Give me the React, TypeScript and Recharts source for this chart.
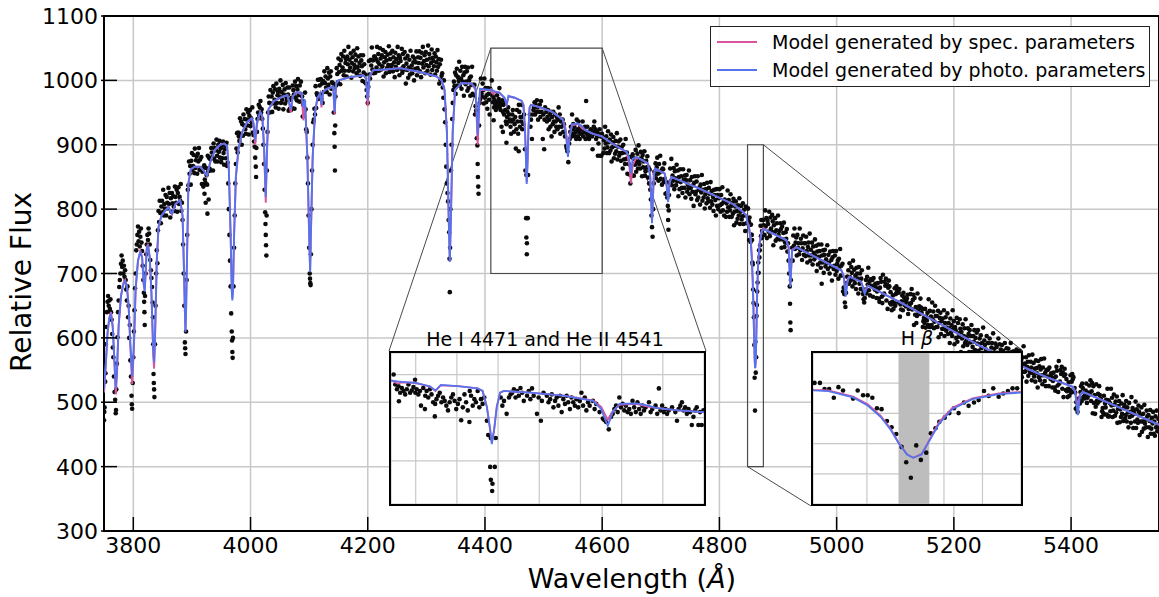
import React from "react";
import {
  ComposedChart,
  Scatter,
  Line,
  XAxis,
  YAxis,
  CartesianGrid,
  ReferenceArea,
  ReferenceLine,
} from "recharts";

// Spectrum of an O/B star with two fitted model spectra, plus two zoomed insets
// (He I 4471 / He II 4541 and H beta).

const FONT = "'DejaVu Sans', 'Liberation Sans', sans-serif";
const SPEC_COLOR = "#d9549c";
const PHOTO_COLOR = "#5673ee";
const GRID = "#c8c8c8";

// main axes
const X_DOMAIN: [number, number] = [3750, 5550];
const Y_DOMAIN: [number, number] = [300, 1100];
const xTicks = [3800, 4000, 4200, 4400, 4600, 4800, 5000, 5200, 5400];
const yTicks = [300, 400, 500, 600, 700, 800, 900, 1000, 1100];

// model wavelengths (Å) and the two model fluxes
const modelWave = [
  3750, 3753, 3756, 3759, 3762, 3765, 3768, 3770, 3772, 3775, 3779, 3783, 3786, 3789, 3792, 3795, 3798,
  3801, 3804, 3808, 3812, 3815, 3818, 3819.5, 3821, 3823, 3825, 3828, 3831, 3834, 3835.5, 3837, 3840,
  3843, 3848, 3855, 3860, 3866, 3872, 3880, 3884, 3886, 3888, 3889, 3890, 3892, 3894, 3898, 3905, 3914,
  3920, 3925.6, 3931, 3940, 3948, 3955, 3960, 3963, 3966, 3968, 3969, 3970, 3972, 3975, 3979.5, 3986,
  3994, 4002, 4005, 4008, 4011, 4016.5, 4020, 4023, 4026, 4028, 4030.6, 4040, 4056, 4063, 4068.8, 4072,
  4079, 4087.5, 4090, 4093, 4097, 4100, 4101.7, 4103, 4106, 4110, 4114, 4118.7, 4121, 4124, 4130, 4141,
  4143.5, 4146, 4150, 4170, 4192.5, 4197, 4200, 4203, 4209.6, 4230, 4255, 4289, 4317.7, 4326, 4331, 4335,
  4338, 4340, 4342, 4345, 4349, 4360, 4377, 4384, 4387.6, 4391.5, 4408.6, 4410.6, 4414, 4416.6, 4424.6,
  4433.6, 4437, 4440.2, 4450.6, 4462.6, 4465.6, 4468.2, 4470.2, 4471.2, 4472.6, 4474.2, 4476.2, 4478.6,
  4494.6, 4514.6, 4532.6, 4537.6, 4541.6, 4544.6, 4548.6, 4558.6, 4566.5, 4570.5, 4584.5, 4599.5, 4620,
  4641.6, 4646, 4649, 4652, 4658.6, 4678, 4682, 4685, 4688, 4690, 4706.9, 4710, 4712.5, 4715, 4718, 4766,
  4823, 4840, 4846, 4848.1, 4850, 4853.2, 4855.1, 4856.8, 4858.1, 4859.1, 4860.2, 4861, 4862.1, 4863.2,
  4864.4, 4866.1, 4868.7, 4872.1, 4875, 4880, 4914, 4918, 4921, 4924, 4931, 5008, 5012, 5015.4, 5019,
  5022, 5042, 5047.8, 5053, 5107, 5176, 5244, 5318, 5358, 5403, 5407, 5411.4, 5415, 5420, 5474, 5550,
];
const photoFlux = [
  520, 560, 608, 630, 636, 615, 560, 522, 548, 620, 665, 683, 688, 680, 650, 592, 540,
  590, 678, 720, 733, 725, 682, 672, 700, 738, 744, 725, 670, 582, 562, 602, 720,
  772, 790, 798, 803, 793, 808, 814, 790, 722, 640, 609, 640, 742, 840, 862, 866, 866,
  860, 852, 872, 893, 900, 902, 898, 862, 760, 672, 658, 672, 760, 850, 894, 920,
  935, 941, 935, 907, 935, 951, 945, 900, 819, 890, 955, 968, 975, 977, 955, 975,
  982, 980, 958, 970, 880, 760, 702, 760, 880, 950, 972, 980, 962, 982, 987, 990,
  951, 995, 1000, 1005, 1008, 1004, 970, 1008, 1016, 1017, 1019, 1013, 1006, 1000, 985, 920,
  790, 718, 790, 920, 985, 996, 995, 988, 915, 987, 985, 986, 984, 983, 981,
  973, 963, 976, 973, 968, 962, 924, 871, 839, 871, 924, 958, 962,
  958, 951, 939, 920, 881, 913, 932, 933, 928, 923, 917, 913, 900,
  889, 880, 855, 878, 881, 871, 850, 778, 850, 863, 855, 835, 811, 840, 850, 832,
  808, 796, 790, 776, 774, 753, 726, 688, 645, 602, 564, 553, 564, 613,
  667, 715, 747, 764, 769, 767, 752, 740, 679, 735, 741, 705, 695, 664, 690,
  695, 687, 669, 681, 656, 622, 588, 555, 539, 524, 515, 480, 510, 516, 495, 465,
];
const specFlux = [
  515, 556, 606, 632, 640, 618, 556, 512, 540, 618, 666, 685, 690, 681, 648, 585, 528,
  582, 675, 720, 735, 726, 680, 675, 702, 740, 746, 726, 666, 572, 552, 594, 716,
  772, 790, 798, 803, 792, 808, 814, 790, 722, 642, 612, 642, 742, 840, 862, 866, 866,
  860, 852, 872, 893, 900, 902, 898, 862, 762, 675, 662, 675, 762, 850, 894, 920,
  935, 941, 932, 900, 932, 951, 944, 896, 810, 885, 955, 968, 975, 977, 950, 975,
  982, 978, 938, 965, 880, 762, 705, 762, 880, 950, 972, 980, 958, 982, 987, 990,
  948, 995, 1000, 1005, 1008, 1002, 960, 1006, 1016, 1017, 1019, 1013, 1006, 1000, 985, 922,
  792, 720, 792, 922, 985, 996, 995, 985, 900, 985, 985, 986, 979, 982, 981,
  972, 962, 975, 973, 968, 962, 926, 873, 842, 873, 926, 958, 962,
  958, 951, 940, 925, 895, 915, 930, 932, 925, 923, 917, 913, 900,
  889, 870, 840, 868, 881, 871, 852, 782, 852, 863, 855, 837, 815, 842, 850, 832,
  808, 796, 790, 778, 776, 756, 730, 692, 648, 604, 565, 553, 566, 617,
  672, 719, 750, 766, 771, 767, 752, 742, 683, 737, 741, 705, 697, 670, 692,
  695, 687, 672, 681, 656, 622, 588, 555, 539, 524, 517, 493, 512, 516, 495, 465,
];

// observed points around the absorption lines [wavelength, flux]
const observed: [number, number][] = [
  [3750,472],[3750.5,485],[3751,492],[3752,532],[3752.5,545],[3753,590],[3754,617],[3755,640],[3756,656],[3757,665],
  [3758,650],[3759,658],[3760,645],[3761,660],[3762,640],[3763,628],[3764,606],[3765,585],[3766,570],[3767,540],
  [3768,516],[3769,504],[3770,483],[3770.5,488],[3771,520],[3772,560],[3773,601],[3774,640],[3775,658],[3776,679],
  [3777,690],[3778,700],[3779,715],[3780,728],[3781,710],[3782,720],[3783,700],[3784,712],[3785,695],[3786,705],
  [3787,690],[3788,675],[3789,658],[3790,680],[3791,632],[3792,650],[3793,600],[3794,620],[3795,565],[3796,540],
  [3797,510],[3797.5,497],[3798,490],[3799,530],[3800,570],[3801,610],[3802,643],[3803,677],[3804,700],[3805,736],
  [3806,745],[3807,760],[3808,773],[3809,750],[3810,765],[3811,742],[3812,757],[3813,770],[3814,748],[3815,735],
  [3816,712],[3817,690],[3818,670],[3818.5,656],[3819,640],[3819.5,620],[3820,665],[3821,700],[3822,730],[3823,745],
  [3824,760],[3825,752],[3826,770],[3827,762],[3828,745],[3829,721],[3830,705],[3831,693],[3832,679],[3833,655],
  [3833.5,632],[3834,590],[3834.5,544],[3835,530],[3835.5,520],[3836,508],[3837,590],[3838,650],[3839,700],[3840,736],
  [3841,716],[3842,767],
  [3885,745],[3886,700],[3887,650],[3888,593],[3888.5,584],[3889,575],[3890,610],[3891,690],[3892,760],[3893,830],
  [3919.5,835],[3921.5,824],[3923.5,810],[3926.5,793],[3928.5,815],
  [3962,840],[3963,800],[3964,760],[3965,720],[3966,680],[3967,638],[3968,610],[3968.5,596],[3969,578],[3969.5,569],
  [3970,600],[3971,680],[3972,740],[3973,790],[3974,840],[3975,870],
  [4005,915],[4006,905],[4007,897],[4008,880],[4009,866],[4009.5,850],[4010,895],[4011,920],[4012,940],[4013,950],
  [4014,962],[4015,945],[4016,958],[4017,968],[4018,950],[4019,955],[4020,940],[4021,925],[4022,900],[4023,870],
  [4024,830],[4025,795],[4025.5,777],[4026,760],[4026.5,744],[4027,728],[4027.5,790],[4028,860],[4029,920],[4030,950],
  [4096,920],[4097,880],[4098,840],[4099,790],[4100,740],[4101,700],[4101.5,692],[4102,685],[4102.5,682],[4103,730],
  [4104,800],[4105,860],[4106,900],[4107,935],
  [4142,950],[4143,918],[4143.5,897],[4144,860],[4144.5,930],[4145,975],
  [4197,995],[4198,985],[4199,975],[4200,965],[4201,990],
  [4331,955],[4332,935],[4333,900],[4334,866],[4335,840],[4336,825],[4337,812],[4338,783],[4339,764],[4339.5,723],
  [4340,671],[4340.5,740],[4341,800],[4342,860],[4343,900],[4344,940],[4345,965],[4346,985],
  [4386,910],[4387,899],[4387.5,870],[4388,850],[4388.5,835],[4389,824],[4390,930],[4391,965],
  [4682,830],[4683,815],[4684,790],[4685,772],[4686,757],[4687,800],[4688,840],[4689,858],
  [4710,825],[4711,818],[4712,805],[4712.5,783],[4713,768],[4713.5,798],[4714,822],[4715,840],
  [4918,720],[4919,700],[4920,680],[4920.5,653],[4921,624],[4921.5,612],[4922,690],[4923,720],[4924,740],
  [4974.5,684],
  [5012,678],[5013,668],[5014,655],[5015,648],[5016,670],[5017,685],[5018,695],
  [5045,668],[5046,660],[5047,655],[5048,662],[5049,675],[5050,690],
  [5409,500],[5410,492],[5411,485],[5412,498],[5413,505],
];

// observed continuum, one point per Å starting at `start`
const continuum: { start: number; flux: number[] }[] = [
  { start: 3843, flux: [
    797,780,813,794,778,804,813,795,830,790,808,801,822,790,819,810,801,833,808,825,
    787,817,796,825,809,820,804,797,835,819,810,830,796,825,834,808,819,813,839,797,810,783] },
  { start: 3894, flux: [
    837,874,855,867,838,875,887,861,867,884,856,894,864,876,882,855,886,874,895,861,
    877,863,881,839,858,863,838,868,846,841,864,853,838,883,859,880,863,878,860,895,
    888,881,860,902,878,895,874,891,908,883,874,900,889,906,880,894,873,898,879,905,
    887,869,893,899,879,903,867,872] },
  { start: 3976, flux: [
    894,918,888,919,913,906,941,917,936,900,932,914,947,930,940,924,917,955,939,930,
    950,916,945,954,929,941,935,958,919] },
  { start: 4031, flux: [
    975,965,950,985,964,975,951,981,991,964,970,986,958,995,965,977,982,956,987,975,
    1000,965,982,970,993,955,978,986,964,996,974,969,989,978,953,989,956,970,954,973,
    957,992,985,978,956,998,973,991,969,986,1002,977,967,992,979,998,967,975,944,962,
    967,953,981,955,924] },
  { start: 4108, flux: [
    939,956,947,991,957,980,977,1001,971,1001,992,978,1002,971,995,965,999,982,1014,996,
    1006,989,982,1019,1003,993,1012,978,1006,1014,987,997,987,995] },
  { start: 4146, flux: [
    992,1019,1010,997,1034,1013,1024,994,1031,1041,1015,1020,1037,1008,1046,1015,1027,1033,1006,1037,
    1025,1052,1015,1032,1020,1042,1004,1027,1036,1014,1046,1024,1019,1040,1031,1011,1050,1021,1037,1015,
    1027,1007,1039,1031,1022,999,1039,1012,1025,997,1009] },
  { start: 4202, flux: [
    1030,1009,1003,1032,1023,1051,1017,1031,1011,1037,1037,1012,1033,1020,1052,1029,1041,1015,1025,1050,
    1034,1017,1039,1022,1047,1006,1028,1036,1044,1011,1031,1019,1040,1024,1053,1013,1033,1042,1019,1024,
    1046,1014,1036,1028,1005,1043,1021,1033,1016,1052,1027,1039,1008,1035,1030,1018,1049,1012,1041,1022,
    1017,1044,1034,995,1026,1016,1038,1004,1020,1032,1009,1046,1017,1023,1011,1037,1028,1000,1034,1018,
    1028,1045,1008,1019,1036,1027,1045,1014,1035,1005,1043,1026,1052,1020,1030,1039,1011,1044,1024,1032,
    1015,1054,1022,1041,1034,1009,1027,1048,1016,1035,1030,1022,1042,1009,1037,1028,1015,1047,1021,1033,
    995,1025,1001,1032,1007,1011,989,973,1000] },
  { start: 4347, flux: [
    998,991,1012,979,1008,1018,992,1005,999,1029,992,1015,1003,987,1021,998,1008,976,1012,1021,
    994,998,1014,984,1020,988,1000,1004,976,1006,993,1021,979,993,977,993,947,960,953] },
  { start: 4392, flux: [
    971,1003,980,975,995,985,964,1003,973,988,966,977,956,988,979,970,947,987] },
  { start: 4601, flux: [
    912,887,907,894,928,902,913,887,896,921,904,887,908,891,916,874,896,904,912,879,
    898,886,906,890,918,877,897,905,883,887,908,875,896,887,863,900,877,888,870,909,
    878,888,855,879,870,854,881,840,867,852,852,885,879,852,878,869,892,858,874,886,
    863,899,870,876,863,889,879,851,884,865,874,890,852,859,875,865,882,849,865,840,861] },
  { start: 4690, flux: [
    854,871,848,865,880,855,844,870,857,883,847,860,838,863,862,842,871,847,824,842] },
  { start: 4716, flux: [
    863,844,878,837,852,844,864,831,859,848,837,869,843,860,820,850,831,862,842,851,
    833,825,862,845,833,852,818,845,853,827,838,832,860,823,845,833,816,850,827,837,
    805,841,851,823,827,843,814,851,818,830,834,807,838,826,853,813,830,818,839,801,
    823,831,809,841,817,812,833,824,802,842,812,828,807,819,797,830,822,814,790,831,
    805,822,800,817,831,806,796,822,808,834,798,811,790,815,813,788,809,796,829,803,
    814,788,798,823,805,788,810,793,816,775,796,804,812,779,797,785,806,790,817,777,
    796,805,784,789,809,777,799,790,766,804,778] },
  { start: 4876, flux: [
    775,760,798,773,786,755,782,777,765,796,758,787,770,765,791,781,744,775,764,786,
    751,767,778,754,790,760,766,753,778,769,740,773,753,763,779,741,748,764,754,769,734,747] },
  { start: 4925, flux: [
    720,759,743,770,738,748,756,728,760,740,747,730,770,736,754,747,721,739,759,729,
    747,747,727,757,735,717,741,748,728,762,720,737,728,748,714,742,732,722,753,727,
    743,704,734,714,745,726,735,717,709,745,728,717,736,701,729,737,711,722,716,744,
    707,729,717,700,734,711,721,689,725,735,707,712,728,698,735,704,715,720,692,723,
    710,738,697,712,697,715,672] },
  { start: 5019, flux: [
    695,705,684,716,694,689,710,701,680,720,691,706,685,697,676,709,700,692,669,710,
    684,700,676,692,705,675] },
  { start: 5051, flux: [
    669,695,683,709,674,687,666,691,691,681,690,664,693,679,675,684,678,662,672,685,
    675,661,656,678,693,687,664,654,698,667,669,687,681,692,658,683,645,678,689,680,
    654,671,652,643,656,666,645,654,677,650,668,680,672,675,655,670,676,633,652,644,
    657,666,643,670,663,651,658,649,656,661,667,637,645,649,653,668,654,676,644,659,
    667,620,662,636,648,623,634,669,643,639,649,637,661,647,639,645,617,626,631,623,
    645,616,633,627,639,620,660,617,642,617,633,620,655,629,641,615,625,650,634,617,
    634,617,642,601,623,631,639,606,626,614,630,614,643,603,623,632,611,616,638,606,
    623,615,592,630,608,620,603,643,614,626,590,617,612,600,631,594,623,607,602,629,
    614,578,609,599,621,587,603,615,592,629,595,601,589,615,606,578,612,593,603,620,
    578,586,603,594,612,581,600,570,608,591,612,580,590,599,571,604,584,592,575,616,
    577,596,589,564,582,603,573,592,592,573,599,578,560,585,592,573,607,566,583,575,
    591,558,586,577,567,599,573,590,552,582,558,589,571,580,563,555,592,575,565,584,
    546,574,583,557,569,563,592,555,578,566,545,579,557,567,536,572,582,555,560,576,
    543,580,549,561,566,539,570,558,587,547,560,548,570,532,555,563,541,573,551,546,
    563,554,534,574,545,561,540,552,532,565,553,545,523,564,539,556,534,551,567,542,
    528,554,542,568,533,546,525,550,550,540,551,525,554,540,536,545,539,523,533,546,
    537,523,518,540,555,549,526,516,564,529,532,550,544,555,521,546,508,541,552,543,
    519,536,517,508,521,531,510,519,542,515,532,544,536,539,517,522,515,490] },
  { start: 5414, flux: [
    506,498,516,525,502,529,522,508,515,506,513,518,529,499,507,511,515,
    526,512,534,502,517,530,483,525,499,511,482,493,528,502,498,513,501,525,511,503,
    505,477,486,491,483,510,481,498,492,504,481,521,478,503,478,499,486,521,495,507,
    477,487,512,496,479,501,484,509,468,490,494,502,469,489,477,498,482,511,471,491,
    496,475,480,502,470,492,484,461,499,477,485,468,508,479,491,460,487,482,470,501,
    460,489,473,468,495,485,449,480,470,492,454,470,482,459,496,467,473,461,487,478,
    446,480,461,471,488,451,459,476,467,485,451,470,448,478,461,487,455,465,474] },
];

// observed points read from the He I 4471 / He II 4541 inset
const heObserved: [number, number][] = [
  [4411.6,1000],[4412.6,977],[4413.6,966],[4414.6,973],[4414.8,938],[4415.6,958],[4416.6,969],[4417.6,962],[4418.6,954],[4419.6,966],
  [4420.6,977],[4421.6,958],[4422.6,963],[4423.6,971],[4424.6,988],[4424.8,958],[4425.6,966],[4426.6,954],[4427.6,962],[4428.2,928],
  [4429.6,969],[4430.6,920],[4430.8,951],[4431.6,962],[4432.6,947],[4433.6,966],[4434.6,954],[4435.6,936],[4436.6,903],[4436.8,932],
  [4437.6,943],[4438.6,951],[4439.6,958],[4440.6,936],[4441.6,947],[4442.6,939],[4443.6,928],[4444.6,917],[4445.6,936],[4446.6,947],
  [4447.6,954],[4448.6,939],[4449.6,920],[4450.6,932],[4451.6,943],[4452.6,894],[4453.6,924],[4454.6,954],[4455.6,936],[4456.6,917],
  [4457.6,890],[4457.8,962],[4458.6,951],[4459.6,928],[4460.6,943],[4461.6,936],[4462.6,962],[4463.6,924],[4464.6,943],[4465.6,932],
  [4466.6,947],[4468.2,893],[4469,860],[4470.6,853],[4473.6,853],[4470.2,786],[4473,786],[4470.6,756],[4471.6,747],[4471.4,730],
  [4476.6,947],[4477.6,928],[4478.6,939],[4480.2,909],[4481.6,947],[4482.6,954],[4483.6,958],[4484.6,966],[4485.6,947],[4486.6,962],
  [4487.6,951],[4488.6,969],[4489.6,958],[4490.6,939],[4492.6,951],[4493.6,962],[4494.6,943],[4495.6,968],[4496.6,951],[4498.6,909],
  [4499.6,947],[4501,893],[4501.6,939],[4502.6,958],[4504.6,951],[4505.6,936],[4506.6,943],[4507.6,954],[4508.6,924],[4509.6,939],
  [4510.6,947],[4511.6,928],[4512.6,951],[4513.6,913],[4514.6,943],[4515.6,932],[4516.6,951],[4517.6,936],[4518.6,920],[4519.6,947],
  [4520.6,936],[4521.6,928],[4522.6,943],[4523.6,924],[4524.6,939],[4525.6,958],[4526.6,928],[4527.6,947],[4528.6,917],[4529.6,936],
  [4530.6,928],[4532.6,939],[4533.6,920],[4534.6,932],[4536.6,913],[4538.6,898],[4539.6,894],[4540.6,890],[4542.2,873],[4543.6,902],
  [4544.6,909],[4545.6,920],[4546.6,928],[4547.6,913],[4548.6,947],[4549.6,924],[4550.6,932],[4551.6,917],[4552.6,928],[4553.6,913],
  [4554.6,920],[4555.6,909],[4556.6,939],[4557.6,924],[4558.6,913],[4559.6,936],[4560.6,920],[4561.6,909],[4562.6,928],[4563.6,917],
  [4564.6,924],[4566.6,936],[4567.6,913],[4568.6,920],[4570.6,928],[4571.6,909],[4572.6,968],[4573.6,917],[4574.6,928],[4575.6,913],
  [4576.6,920],[4577.6,909],[4578.6,917],[4580.6,924],[4582.6,913],[4583.6,893],[4584.6,920],[4585.6,928],[4586.6,936],[4587.6,917],
  [4588.6,924],[4589.6,909],[4590.6,920],[4591.6,913],[4592.6,883],[4593.6,902],[4594.6,917],[4595.6,924],[4596.6,883],[4597.6,913],
  [4598.6,883],[4599.6,917],
];

const hbObserved: [number, number][] = [
  [4848.2,801],[4848.9,801],[4849.5,781],[4850.1,781],[4850.7,752],[4851.3,787],[4851.9,776],[4853.2,749],[4853.8,776],[4854.5,760],
  [4855.1,760],[4855.7,752],[4856.3,717],[4856.9,714],[4857.6,675],[4858.2,654],[4858.8,632],[4859.5,589],[4860.1,538],[4860.7,487],
  [4861.4,594],[4862,546],[4862.7,570],[4863.3,634],[4863.9,651],[4864.4,672],[4865.1,686],[4865.7,701],[4866.3,717],[4866.9,701],
  [4867.6,736],[4868.2,725],[4868.9,736],[4869.5,744],[4870.2,774],[4870.8,758],[4871.4,783],[4872.1,755],[4872.7,766],[4873.3,774],
  [4873.9,783],[4874.5,783],
];

const modelRows = modelWave.map((w, i) => ({ w, spec: specFlux[i], photo: photoFlux[i] }));
const obsRows = [
  ...observed,
  ...continuum.flatMap((seg) => seg.flux.map((f, i) => [seg.start + i, f] as [number, number])),
  ...heObserved,
  ...hbObserved,
].map(([w, f]) => ({ w, f }));

// main plot area in pixels
const PLOT = { left: 104, right: 1159, top: 16, bottom: 531 };
const toWave = (px: number) =>
  X_DOMAIN[0] + ((px - PLOT.left) / (PLOT.right - PLOT.left)) * (X_DOMAIN[1] - X_DOMAIN[0]);
const toFlux = (py: number) =>
  Y_DOMAIN[1] - ((py - PLOT.top) / (PLOT.bottom - PLOT.top)) * (Y_DOMAIN[1] - Y_DOMAIN[0]);

const heBox = { left: 389, top: 351, width: 317, height: 155 };
const hbBox = { left: 811, top: 351, width: 212, height: 155 };

const Dot = (p: any) => <circle cx={p.cx} cy={p.cy} r={2.3} fill="#0b0b0b" />;

const XTick = ({ x, y, payload }: any) => (
  <g>
    <line x1={x} x2={x} y1={y} y2={y - 14} stroke="#000" strokeWidth={1.5} />
    <text x={x} y={y + 22} textAnchor="middle" fontSize={22} fontFamily={FONT} fill="#000">
      {payload.value}
    </text>
  </g>
);

const YTick = ({ x, y, payload }: any) => (
  <g>
    <line x1={x - 3} x2={x + 13} y1={y} y2={y} stroke="#000" strokeWidth={1.5} />
    <text x={x - 6} y={y + 8} textAnchor="end" fontSize={22} fontFamily={FONT} fill="#000">
      {payload.value}
    </text>
  </g>
);

const InsetXTick = ({ x, y }: any) => (
  <line x1={x} x2={x} y1={y} y2={y - 5} stroke="#000" strokeWidth={1.2} />
);
const InsetYTick = ({ x, y }: any) => (
  <line x1={x} x2={x + 5} y1={y} y2={y} stroke="#000" strokeWidth={1.2} />
);

function Inset({
  box,
  xDomain,
  yDomain,
  xTicksIn,
  yTicksIn,
  shade,
}: {
  box: { left: number; top: number; width: number; height: number };
  xDomain: [number, number];
  yDomain: [number, number];
  xTicksIn: number[];
  yTicksIn: number[];
  shade?: [number, number];
}) {
  const pts = obsRows.filter(
    (d) => d.w >= xDomain[0] && d.w <= xDomain[1] && d.f >= yDomain[0] && d.f <= yDomain[1]
  );
  return (
    <div
      style={{
        position: "absolute",
        left: box.left,
        top: box.top,
        width: box.width,
        height: box.height,
        boxSizing: "border-box",
        border: "2px solid #000",
        background: "#fff",
      }}
    >
      <ComposedChart
        width={box.width - 4}
        height={box.height - 4}
        margin={{ top: 0, right: 0, bottom: 0, left: 0 }}
      >
        <CartesianGrid stroke={GRID} strokeWidth={1.2} />
        <XAxis
          type="number"
          dataKey="w"
          domain={xDomain}
          ticks={xTicksIn}
          height={0}
          tickSize={0}
          tickMargin={0}
          tickLine={false}
          axisLine={false}
          tick={(p: any) => <InsetXTick {...p} />}
          allowDataOverflow
        />
        <YAxis
          type="number"
          dataKey="f"
          domain={yDomain}
          ticks={yTicksIn}
          width={0}
          tickSize={0}
          tickMargin={0}
          tickLine={false}
          axisLine={false}
          tick={(p: any) => <InsetYTick {...p} />}
          allowDataOverflow
        />
        {shade && (
          <ReferenceArea x1={shade[0]} x2={shade[1]} fill="#bdbdbd" fillOpacity={1} stroke="none" />
        )}
        <Scatter data={pts} dataKey="f" shape={Dot} isAnimationActive={false} zIndex={500} />
        <Line
          data={modelRows}
          dataKey="spec"
          type="linear"
          stroke={SPEC_COLOR}
          strokeWidth={1.8}
          dot={false}
          isAnimationActive={false}
          zIndex={700}
        />
        <Line
          data={modelRows}
          dataKey="photo"
          type="linear"
          stroke={PHOTO_COLOR}
          strokeWidth={1.8}
          dot={false}
          isAnimationActive={false}
          zIndex={710}
        />
      </ComposedChart>
    </div>
  );
}

export default function App() {
  const markStroke = "#4a4a4a";
  return (
    <div
      style={{
        position: "absolute",
        left: 0,
        top: 0,
        width: 1159,
        height: 597,
        background: "#fff",
        fontFamily: FONT,
        overflow: "hidden",
      }}
    >
      <ComposedChart width={1159} height={597} margin={{ top: PLOT.top, right: 0, bottom: 0, left: 0 }}>
        <CartesianGrid stroke={GRID} strokeWidth={1.5} />
        <XAxis
          type="number"
          dataKey="w"
          domain={X_DOMAIN}
          ticks={xTicks}
          height={597 - PLOT.bottom}
          tickSize={0}
          tickMargin={0}
          tickLine={false}
          axisLine={{ stroke: "#000", strokeWidth: 2 }}
          tick={(p: any) => <XTick {...p} />}
          allowDataOverflow
        />
        <YAxis
          type="number"
          dataKey="f"
          domain={Y_DOMAIN}
          ticks={yTicks}
          width={PLOT.left}
          tickSize={0}
          tickMargin={0}
          tickLine={false}
          axisLine={{ stroke: "#000", strokeWidth: 2 }}
          tick={(p: any) => <YTick {...p} />}
          allowDataOverflow
        />
        <Scatter data={obsRows} dataKey="f" shape={Dot} isAnimationActive={false} zIndex={500} />
        <Line
          data={modelRows}
          dataKey="spec"
          name="Model generated by spec. parameters"
          type="linear"
          stroke={SPEC_COLOR}
          strokeWidth={1.9}
          dot={false}
          isAnimationActive={false}
          zIndex={700}
        />
        <Line
          data={modelRows}
          dataKey="photo"
          name="Model generated by photo. parameters"
          type="linear"
          stroke={PHOTO_COLOR}
          strokeWidth={1.9}
          dot={false}
          isAnimationActive={false}
          zIndex={710}
        />
        {/* zoom marks */}
        <ReferenceArea x1={4410} x2={4600} y1={700} y2={1050} fill="none" stroke={markStroke} strokeWidth={1.2} />
        <ReferenceArea x1={4848} x2={4875} y1={400} y2={900} fill="none" stroke={markStroke} strokeWidth={1.2} />
        <ReferenceLine
          segment={[{ x: 4410, y: 1050 }, { x: toWave(heBox.left), y: toFlux(heBox.top) }]}
          stroke={markStroke}
          strokeWidth={1}
        />
        <ReferenceLine
          segment={[{ x: 4600, y: 1050 }, { x: toWave(heBox.left + heBox.width), y: toFlux(heBox.top) }]}
          stroke={markStroke}
          strokeWidth={1}
        />
        <ReferenceLine
          segment={[{ x: 4875, y: 900 }, { x: toWave(hbBox.left + hbBox.width), y: toFlux(hbBox.top) }]}
          stroke={markStroke}
          strokeWidth={1}
        />
        <ReferenceLine
          segment={[{ x: 4848, y: 400 }, { x: toWave(hbBox.left), y: toFlux(hbBox.top + hbBox.height) }]}
          stroke={markStroke}
          strokeWidth={1}
        />
        {/* frame */}
        <ReferenceArea x1={X_DOMAIN[0]} x2={X_DOMAIN[1]} y1={Y_DOMAIN[0]} y2={Y_DOMAIN[1]} fill="none" stroke="#000" strokeWidth={2} />
      </ComposedChart>

      <Inset
        box={heBox}
        xDomain={[4410, 4600]}
        yDomain={[700, 1050]}
        xTicksIn={[4425, 4450, 4475, 4500, 4525, 4550, 4575]}
        yTicksIn={[750, 800, 850, 900, 950, 1000]}
      />
      <Inset
        box={hbBox}
        xDomain={[4848, 4875]}
        yDomain={[400, 900]}
        xTicksIn={[4850, 4855, 4860, 4865, 4870]}
        yTicksIn={[500, 600, 700, 800]}
        shade={[4859.1, 4863.1]}
      />

      {/* legend */}
      <div
        style={{
          position: "absolute",
          left: 710,
          top: 26,
          width: 440,
          height: 61,
          boxSizing: "border-box",
          border: "1px solid #222",
          background: "rgba(255,255,255,0.9)",
          fontSize: 19,
          color: "#000",
        }}
      >
        {[
          { label: "Model generated by spec. parameters", color: SPEC_COLOR, cy: 15 },
          { label: "Model generated by photo. parameters", color: PHOTO_COLOR, cy: 43 },
        ].map((e) => (
          <div key={e.label} style={{ position: "absolute", left: 0, top: e.cy - 12, height: 24, width: "100%" }}>
            <div style={{ position: "absolute", left: 6, top: 11, width: 40, height: 2, background: e.color }} />
            <div style={{ position: "absolute", left: 61, top: 0, lineHeight: "24px", whiteSpace: "nowrap" }}>
              {e.label}
            </div>
          </div>
        ))}
      </div>

      {/* titles and axis labels */}
      <svg width={1159} height={597} style={{ position: "absolute", left: 0, top: 0, pointerEvents: "none" }}>
        <text
          transform="translate(31,282) rotate(-90)"
          textAnchor="middle"
          fontSize={28}
          fontFamily={FONT}
          fill="#000"
        >
          Relative Flux
        </text>
        <text x={632} y={588} textAnchor="middle" fontSize={27} fontFamily={FONT} fill="#000">
          Wavelength (<tspan fontStyle="italic">Å</tspan>)
        </text>
        <text x={545} y={346} textAnchor="middle" fontSize={19} fontFamily={FONT} fill="#000">
          He I 4471 and He II 4541
        </text>
        <text x={917} y={345} textAnchor="middle" fontSize={19} fontFamily={FONT} fill="#000">
          H <tspan fontStyle="italic">β</tspan>
        </text>
      </svg>
    </div>
  );
}
